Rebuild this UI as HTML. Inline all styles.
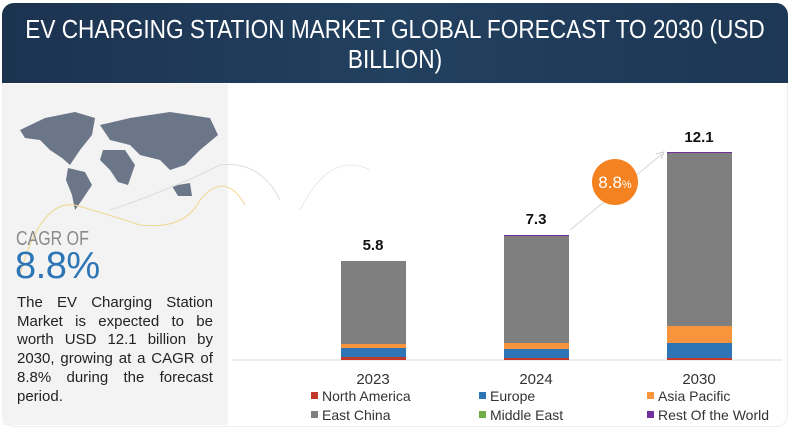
<!DOCTYPE html>
<html><head><style>
body{margin:0;width:791px;height:434px;background:#fff;font-family:"Liberation Sans",sans-serif;overflow:hidden;position:relative}
.hdr{position:absolute;left:2px;top:3px;width:786px;height:80px;border-radius:12px 12px 0 0;background:linear-gradient(90deg,#1c3350,#22405f 50%,#1d3754);overflow:hidden}
.hdr div{position:absolute;left:-94px;top:11px;width:974px;transform:scaleX(0.87);color:#fff;text-align:center;font-size:26px;line-height:30px}
.left{position:absolute;left:3px;top:84px;width:225px;height:341px;background:#f3f3f3}
.frame{position:absolute;left:2px;top:83px;width:784px;height:343px;border:1px solid #eee;border-top:none;border-radius:0 0 12px 12px}
.p{position:absolute;left:17px;top:294px;width:196px;font-size:15px;color:#222;line-height:18.7px}
.p div{white-space:nowrap;display:flex;justify-content:space-between}
</style></head><body>
<div class="hdr"><div>EV CHARGING STATION MARKET GLOBAL FORECAST TO 2030 (USD<br>BILLION)</div></div>
<div class="frame"></div>
<div class="left"></div>
<svg style="position:absolute;left:0;top:0" width="791" height="434">
<g fill="#6b7688">
<path d="M20 130 L45 118 L75 112 L95 118 L92 135 L80 150 L70 165 L62 158 L50 150 L40 140 L25 138Z"/>
<path d="M68 168 L85 172 L92 185 L82 200 L75 210 L72 195 L66 180Z"/>
<path d="M100 125 L130 118 L170 112 L210 118 L218 135 L200 150 L185 165 L170 170 L160 160 L140 155 L130 145 L110 140Z"/>
<path d="M103 150 L125 150 L135 165 L128 185 L118 182 L110 170 L100 160Z"/>
<path d="M172 186 L190 183 L192 196 L178 196Z"/>
</g>
<path d="M20 275 Q40 200 75 205 Q110 215 140 225 Q185 230 200 200 Q225 170 245 205" stroke="#f0d890" fill="none"/>
<path d="M110 210 Q170 190 220 165 Q260 160 280 200" stroke="#ddd" fill="none"/>
<path d="M300 210 Q330 150 370 170" stroke="#e8e8e8" fill="none"/>
<line x1="232" y1="360" x2="782" y2="360" stroke="#ddd"/>
<g>
<rect x="341" y="261" width="65" height="83" fill="#7f7f7f"/>
<rect x="341" y="344" width="65" height="4" fill="#f7943c"/>
<rect x="341" y="348" width="65" height="9" fill="#2e75b6"/>
<rect x="341" y="357" width="65" height="3" fill="#c0392b"/>
<rect x="504" y="235" width="65" height="108" fill="#7f7f7f"/>
<rect x="504" y="235" width="65" height="1" fill="#7030a0"/>
<rect x="504" y="343" width="65" height="6" fill="#f7943c"/>
<rect x="504" y="349" width="65" height="9" fill="#2e75b6"/>
<rect x="504" y="358" width="65" height="2" fill="#c0392b"/>
<rect x="667" y="152" width="65" height="174" fill="#7f7f7f"/>
<rect x="667" y="152" width="65" height="1" fill="#7030a0"/>
<rect x="667" y="326" width="65" height="17" fill="#f7943c"/>
<rect x="667" y="343" width="65" height="15" fill="#2e75b6"/>
<rect x="667" y="358" width="65" height="2" fill="#c0392b"/>
</g>
<line x1="570" y1="230" x2="662" y2="154" stroke="#ddd" stroke-width="1.2"/>
<path d="M656 154 L664 152 L661 159" stroke="#ccc" fill="none"/>
<circle cx="615" cy="182" r="23" fill="#f58220"/>
<text x="615" y="188" fill="#fff" font-size="17" text-anchor="middle" font-family="Liberation Sans">8.8<tspan font-size="11">%</tspan></text>
<g font-family="Liberation Sans" font-weight="bold" font-size="15" text-anchor="middle" fill="#111">
<text x="373" y="250">5.8</text><text x="536" y="224">7.3</text><text x="699" y="142">12.1</text></g>
<g font-family="Liberation Sans" font-size="15" text-anchor="middle" fill="#333">
<text x="373" y="384">2023</text><text x="536" y="384">2024</text><text x="699" y="384">2030</text></g>
<g font-family="Liberation Sans" font-size="14" fill="#333">
<rect x="311" y="392" width="7" height="7" fill="#c0392b"/><text x="322" y="401">North America</text>
<rect x="479" y="392" width="7" height="7" fill="#2e75b6"/><text x="490" y="401">Europe</text>
<rect x="647" y="392" width="7" height="7" fill="#f7943c"/><text x="658" y="401">Asia Pacific</text>
<rect x="311" y="411" width="7" height="7" fill="#7f7f7f"/><text x="322" y="420">East China</text>
<rect x="479" y="411" width="7" height="7" fill="#70ad47"/><text x="490" y="420">Middle East</text>
<rect x="647" y="411" width="7" height="7" fill="#7030a0"/><text x="658" y="420">Rest Of the World</text>
</g>
</svg>
<div style="position:absolute;left:16px;top:228px;font-size:20px;color:#8a8a8a;transform:scaleX(0.8);transform-origin:left">CAGR OF</div>
<div style="position:absolute;left:15px;top:245px;font-size:38px;color:#2e75b6;letter-spacing:-0.5px">8.8%</div>
<div class="p">
<div><span>The</span><span>EV</span><span>Charging</span><span>Station</span></div>
<div><span>Market</span><span>is</span><span>expected</span><span>to</span><span>be</span></div>
<div><span>worth</span><span>USD</span><span>12.1</span><span>billion</span><span>by</span></div>
<div><span>2030,</span><span>growing</span><span>at</span><span>a</span><span>CAGR</span><span>of</span></div>
<div><span>8.8%</span><span>during</span><span>the</span><span>forecast</span></div>
<div style="display:block">period.</div>
</div>
</body></html>
